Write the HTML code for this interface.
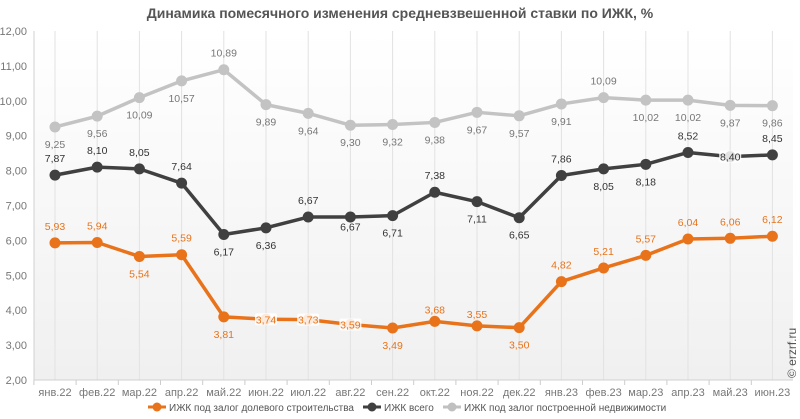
<!DOCTYPE html>
<html><head><meta charset="utf-8"><style>
body{margin:0;background:#fff;}
svg{display:block;font-family:"Liberation Sans",sans-serif;}
</style></head><body>
<svg width="800" height="419" viewBox="0 0 800 419" xmlns="http://www.w3.org/2000/svg">
<defs><linearGradient id="bg" x1="0" y1="0" x2="0" y2="1"><stop offset="0" stop-color="#ffffff"/><stop offset="1" stop-color="#f0f0f0"/></linearGradient></defs>
<rect x="34" y="31" width="759" height="349" fill="url(#bg)"/>
<text x="400" y="18" text-anchor="middle" font-size="14" font-weight="bold" fill="#555">Динамика помесячного изменения средневзвешенной ставки по ИЖК, %</text>
<g id="grid" stroke="#e2e2e2" stroke-width="1"></g>
<line x1="34" y1="31" x2="34" y2="380" stroke="#d0d0d0"/>
<line x1="34" y1="380" x2="793" y2="380" stroke="#d0d0d0"/>
<g id="yl" font-size="11" fill="#777" text-anchor="end"></g>
<g id="xl" font-size="11" fill="#777" text-anchor="middle"></g>
<g id="series"></g>
<text transform="translate(796,378) rotate(-90)" font-size="12" fill="#555">© erzrf.ru</text>
<g font-size="10" fill="#555">
<line x1="148" y1="407" x2="166" y2="407" stroke="#E8731A" stroke-width="3"/><circle cx="157" cy="407" r="4.5" fill="#E8731A"/>
<text x="169" y="411">ИЖК под залог долевого строительства</text>
<line x1="363" y1="407" x2="381" y2="407" stroke="#404040" stroke-width="3"/><circle cx="372" cy="407" r="4.5" fill="#404040"/>
<text x="384" y="411">ИЖК всего</text>
<line x1="443" y1="407" x2="461" y2="407" stroke="#c0c0c0" stroke-width="3"/><circle cx="452" cy="407" r="4.5" fill="#c0c0c0"/>
<text x="464" y="411">ИЖК под залог построенной недвижимости</text>
</g>
</svg>
<script>
const ns="http://www.w3.org/2000/svg";
const X=i=>55+i*42.2, Y=v=>31+(12-v)*34.9;
function el(p,t,a,txt){const e=document.createElementNS(ns,t);for(const k in a)e.setAttribute(k,a[k]);if(txt)e.textContent=txt;p.appendChild(e);return e;}
const g=document.getElementById('grid'),yl=document.getElementById('yl'),xl=document.getElementById('xl'),s=document.getElementById('series');
for(let v=2;v<=12;v++){el(yl,'text',{x:27,y:Y(v)+4},v.toFixed(2).replace('.',','));}
const months=['янв.22','фев.22','мар.22','апр.22','май.22','июн.22','июл.22','авг.22','сен.22','окт.22','ноя.22','дек.22','янв.23','фев.23','мар.23','апр.23','май.23','июн.23'];
months.forEach((m,i)=>{el(g,'line',{x1:X(i),y1:31,x2:X(i),y2:380});el(g,'line',{x1:X(i)-21.1,y1:380,x2:X(i)-21.1,y2:385,stroke:'#ccc'});el(xl,'text',{x:X(i),y:396},m);});
const gray=[9.25,9.56,10.09,10.57,10.89,9.89,9.64,9.30,9.32,9.38,9.67,9.57,9.91,10.09,10.02,10.02,9.87,9.86];
const grayD=[1,1,1,1,-1,1,1,1,1,1,1,1,1,-1,1,1,1,1];
const dark=[7.87,8.10,8.05,7.64,6.17,6.36,6.67,6.67,6.71,7.38,7.11,6.65,7.86,8.05,8.18,8.52,8.40,8.45];
const darkD=[-1,-1,-1,-1,1,1,-1,0.6,1,-1,1,1,-1,1,1,-1,0,-1];
const or=[5.93,5.94,5.54,5.59,3.81,3.74,3.73,3.59,3.49,3.68,3.55,3.50,4.82,5.21,5.57,6.04,6.06,6.12];
const orD=[-1,-1,1,-1,1,0,0,0,1,-0.6,-0.6,1,-1,-1,-1,-1,-1,-1];
function ser(d,dir,c,tc){el(s,'polyline',{points:d.map((v,i)=>X(i)+','+Y(v)).join(' '),fill:'none',stroke:c,'stroke-width':3.5,'stroke-linejoin':'round'});
d.forEach((v,i)=>{el(s,'circle',{cx:X(i),cy:Y(v),r:5.5,fill:c});});
d.forEach((v,i)=>{
let dy=dir[i]>0?dir[i]*19+2:dir[i]*13;
if(dir[i]==0){dy=4;el(s,'rect',{x:X(i)-11,y:Y(v)-6,width:22,height:12,fill:'#fff','fill-opacity':0.85,rx:2});}
el(s,'text',{x:X(i),y:Y(v)+dy,'font-size':10.5,fill:tc,'text-anchor':'middle'},v.toFixed(2).replace('.',','));});}
ser(gray,grayD,'#c3c3c3','#777');ser(dark,darkD,'#404040','#333');ser(or,orD,'#E8731A','#E8731A');
</script>
</body></html>
